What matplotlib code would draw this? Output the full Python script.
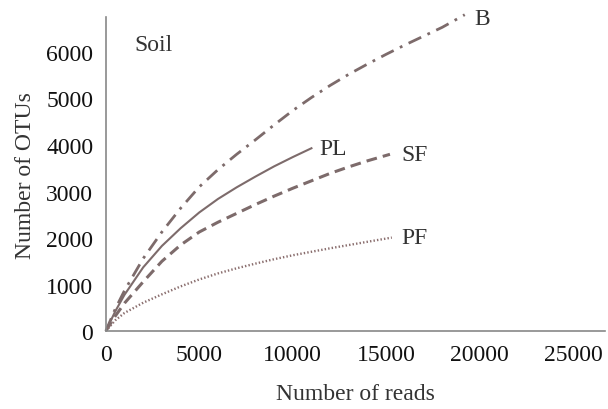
import numpy as np
import matplotlib
matplotlib.use('Agg')
import matplotlib.pyplot as plt

plt.rcParams['font.family'] = ['Liberation Serif', 'DejaVu Serif']

# rarefaction curves
reads_B = [0, 500, 1000, 2000, 3000, 4000, 5000, 6000, 7000, 8000, 9000, 10000,
           11000, 12000, 13000, 14000, 15000, 16000, 17000, 18000, 19200]
otus_B = [0, 470, 870, 1560, 2130, 2640, 3100, 3470, 3800, 4110, 4430, 4740,
          5020, 5280, 5520, 5740, 5950, 6150, 6340, 6530, 6800]

reads_PL = [0, 500, 1000, 2000, 3000, 4000, 5000, 6000, 7000, 8000, 9000, 10000, 11000]
otus_PL = [0, 420, 780, 1370, 1830, 2210, 2550, 2840, 3090, 3320, 3540, 3740, 3930]

reads_SF = [0, 500, 1000, 2000, 3000, 4000, 5000, 6000, 7000, 8000, 9000, 10000,
            11000, 12000, 13000, 14000, 15200]
otus_SF = [0, 320, 600, 1060, 1500, 1850, 2130, 2340, 2530, 2720, 2900, 3070,
           3230, 3390, 3530, 3660, 3800]

reads_PF = [0, 500, 1000, 2000, 3000, 4000, 5000, 6000, 7000, 8000, 9000, 10000,
            11000, 12000, 13000, 14000, 15300]
otus_PF = [0, 230, 390, 610, 790, 960, 1110, 1240, 1350, 1450, 1545, 1630,
           1705, 1780, 1850, 1920, 2010]

names = ['B', 'PL', 'SF', 'PF']

fig = plt.figure(figsize=(6.08, 4.10), dpi=100)
ax = fig.add_axes([0.174, 0.19, 0.821, 0.766])

c = '#7d6b6b'
ax.plot(reads_B, otus_B, color=c, lw=2.0, dashes=(5, 2.5, 1, 2.5), clip_on=False)
ax.plot(reads_PL, otus_PL, color=c, lw=1.5, ls='-')
ax.plot(reads_SF, otus_SF, color=c, lw=2.2, dashes=(3.5, 2))
ax.plot(reads_PF, otus_PF, color='#8a6e6e', lw=1.7, dashes=(0.6, 0.9))

series = [(reads_B, otus_B, (7, -3)), (reads_PL, otus_PL, (6, 0)),
          (reads_SF, otus_SF, (8, 0)), (reads_PF, otus_PF, (7, 0))]
for name, (xs, ys, off) in zip(names, series):
    ax.annotate(name, xy=(xs[-1], ys[-1]), xytext=off, textcoords='offset points',
                ha='left', va='center', fontsize=17, color='#333333',
                annotation_clip=False)

ax.text(1550, 6170, 'Soil', fontsize=17, color='#333333', va='center', ha='left')

ax.set_xlim(0, 26700)
ax.set_ylim(0, 6750)
ax.set_xticks([0, 5000, 10000, 15000, 20000, 25000])
ax.set_yticks([0, 1000, 2000, 3000, 4000, 5000, 6000])
ax.tick_params(length=0, labelsize=17, colors='#111111')
ax.tick_params(axis='x', pad=9)
ax.tick_params(axis='y', pad=9)
for s in ['top', 'right']:
    ax.spines[s].set_visible(False)
for s in ['left', 'bottom']:
    ax.spines[s].set_color('#888888')
    ax.spines[s].set_linewidth(1.2)

ax.set_xlabel('Number of reads', fontsize=17, color='#333333', labelpad=13)
ax.set_ylabel('Number of OTUs', fontsize=17, color='#333333', labelpad=7)

plt.savefig('out.png', dpi=100)
plt.close()
